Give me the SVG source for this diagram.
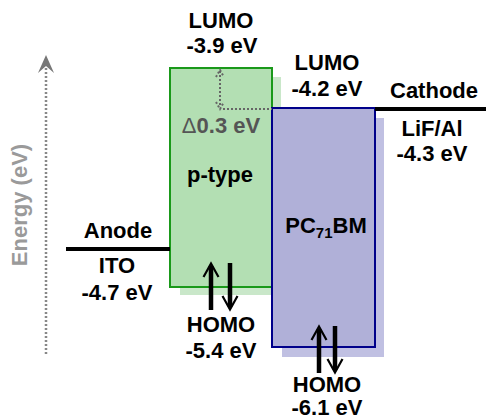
<svg xmlns="http://www.w3.org/2000/svg" width="486" height="420" viewBox="0 0 486 420">
<style>
text{font-family:"Liberation Sans",Arial,sans-serif;font-weight:bold;font-size:22px;text-anchor:middle;fill:#000}
.gray{fill:#555}
.axis{fill:#9a9a9a}
.dot{stroke:#666;stroke-width:2;stroke-dasharray:2 2;fill:none}
.shaft{stroke:#000;stroke-width:4.5;fill:none}
.head{stroke:#000;stroke-width:2.2;fill:none}
.electrode{stroke:#000;stroke-width:4;fill:none}
</style>
<defs>
<g id="upArrow">
<line class="shaft" x1="0" y1="3" x2="0" y2="47"/>
<polyline class="head" points="-7.5,14 0,0.5 7.5,14"/>
</g>
</defs>
<rect width="486" height="420" fill="#fff"/>
<g id="energy-axis">
<line x1="46" y1="64" x2="46" y2="356" stroke="#888" stroke-width="2.5" stroke-dasharray="2 2"/>
<polygon points="46,55 54,73 46,66 38,73" fill="#777"/>
<text class="axis" transform="translate(27,205) rotate(-90)">Energy (eV)</text>
</g>
<g id="ptype">
<rect x="180" y="77" width="101" height="218" fill="#c9e7c9"/>
<rect x="170" y="68" width="102" height="219" fill="#b3dfb3" stroke="#1a991a" stroke-width="2"/>
<text x="220" y="182">p-type</text>
</g>
<g id="pc71bm">
<rect x="282" y="118" width="102" height="239" fill="#c0c0e2"/>
<rect x="272" y="108" width="103" height="239" fill="#b0b0d8" stroke="#00008a" stroke-width="2"/>
<text x="326" y="233">PC<tspan font-size="15" dy="5">71</tspan><tspan dy="-5">BM</tspan></text>
</g>
<g id="anode">
<line class="electrode" x1="66" y1="249" x2="170" y2="249"/>
<text x="118" y="238">Anode</text>
<text x="117" y="273">ITO</text>
<text x="117" y="300">-4.7 eV</text>
</g>
<g id="cathode">
<line class="electrode" x1="375" y1="109" x2="486" y2="109"/>
<text x="434" y="98">Cathode</text>
<text x="432" y="136">LiF/Al</text>
<text x="432" y="161">-4.3 eV</text>
</g>
<g id="labels">
<text x="221" y="28">LUMO</text>
<text x="222" y="53">-3.9 eV</text>
<text x="327" y="70">LUMO</text>
<text x="327" y="96">-4.2 eV</text>
<text x="221" y="332">HOMO</text>
<text x="221" y="358">-5.4 eV</text>
<text x="327" y="392">HOMO</text>
<text x="327" y="415">-6.1 eV</text>
<text class="gray" x="221" y="133"><tspan font-weight="normal">Δ</tspan>0.3 eV</text>
</g>
<g id="connectors">
<line class="dot" x1="220" y1="71" x2="220" y2="107"/>
<polyline class="dot" points="216,77 220,70 224,77"/>
<polyline class="dot" points="216,102 220,109 224,102"/>
<line class="dot" x1="223" y1="109" x2="272" y2="109"/>
<use href="#upArrow" transform="translate(211,263)"/>
<use href="#upArrow" transform="translate(230,310) rotate(180)"/>
<use href="#upArrow" transform="translate(319,326)"/>
<use href="#upArrow" transform="translate(335,373) rotate(180)"/>
</g>
</svg>
